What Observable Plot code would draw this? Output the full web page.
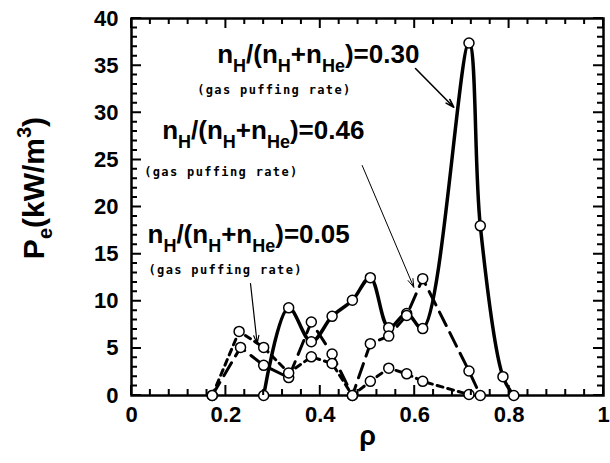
<!DOCTYPE html>
<html><head><meta charset="utf-8">
<script src="https://cdn.jsdelivr.net/npm/d3@7"></script>
<script src="https://cdn.jsdelivr.net/npm/@observablehq/plot@0.6"></script>
<style>body{margin:0;background:#fff} svg{display:block}</style>
</head><body><div id="chart"></div>
<script>
// ---- data ----
// n_H/(n_H+n_He) = 0.30 (solid)
const rho30 = [0.280, 0.333, 0.381, 0.425, 0.468, 0.506, 0.545, 0.583, 0.617, 0.715, 0.739, 0.787, 0.810];
const pe30  = [0.0,   9.3,   5.7,   8.4,   10.1,  12.5,  7.2,   8.7,   7.1,   37.4,  18.0,  2.0,   0.0];
// n_H/(n_H+n_He) = 0.46 (long dash)
const rho46 = [0.171, 0.231, 0.280, 0.333, 0.381, 0.425, 0.468, 0.506, 0.545, 0.583, 0.617, 0.715, 0.739];
const pe46  = [0.0,   5.1,   3.2,   1.9,   7.8,   4.4,   0.0,   5.5,   6.3,   8.5,   12.4,  2.6,   0.0];
// n_H/(n_H+n_He) = 0.05 (short dash)
const rho05 = [0.171, 0.228, 0.280, 0.333, 0.381, 0.425, 0.468, 0.506, 0.545, 0.583, 0.617, 0.715];
const pe05  = [0.0,   6.8,   5.1,   2.4,   4.1,   3.4,   0.0,   1.5,   2.9,   2.3,   1.5,   0.1];

const xTickLabels = [0, 0.2, 0.4, 0.6, 0.8, 1];
const yTickLabels = [0, 5, 10, 15, 20, 25, 30, 35, 40];

const annoRatios   = ["0.30", "0.46", "0.05"];
const annoNote     = "(gas puffing rate)";
const annoLabelRho = [0.1816, 0.0650, 0.0339];
const annoLabelPe  = [35.33, 27.24, 16.13];
const annoNoteRho  = [0.1392, 0.0269, 0.0360];
const annoNotePe   = [32.04, 23.34, 12.94];
const arrowFromRho = [0.6017, 0.4888, 0.2521];
const arrowFromPe  = [34.69, 24.40, 11.88];
const arrowToRho   = [0.6828, 0.5980, 0.2663];
const arrowToPe    = [30.59, 11.49, 5.49];
const arrowWidth   = [1.6, 1.0, 1.2];

// ---- tables ----
const rows = (rho, pe, s) => rho.map((r, i) => ({rho: r, pe: pe[i], s}));
const s30 = rows(rho30, pe30, "0.30");
const s46 = rows(rho46, pe46, "0.46");
const s05 = rows(rho05, pe05, "0.05");
const labels = annoRatios.map((v, i) => ({rho: annoLabelRho[i], pe: annoLabelPe[i], text: "RATIO:" + v}));
const notes = annoRatios.map((v, i) => ({rho: annoNoteRho[i], pe: annoNotePe[i], text: annoNote}));
const arrows = annoRatios.map((v, i) => ({x1: arrowFromRho[i], y1: arrowFromPe[i], x2: arrowToRho[i], y2: arrowToPe[i], w: arrowWidth[i]}));

const xMinor = d3.range(0, 1.0001, 0.04);
const yMinor = d3.range(0, 40.001, 1);

const chart = Plot.plot({
  width: 610, height: 463,
  marginLeft: 131, marginRight: 7, marginTop: 18, marginBottom: 68,
  x: {domain: [0, 1]},
  y: {domain: [0, 40]},
  style: {fontFamily: "'Liberation Sans', Arial, sans-serif", fontWeight: "bold", background: "white", color: "black", overflow: "visible"},
  marks: [
    Plot.frame({strokeWidth: 2.5}),
    // tick labels
    Plot.axisX({anchor: "bottom", ticks: xTickLabels, tickSize: 0, tickPadding: 11, tickFormat: d => String(d), fontSize: 22, label: null}),
    Plot.axisY({anchor: "left", ticks: yTickLabels, tickSize: 0, tickPadding: 13, tickFormat: d => String(d), fontSize: 22, label: null}),
    // curves
    Plot.line(s30, {x: "rho", y: "pe", curve: "catmull-rom", strokeWidth: 3.5}),
    Plot.line(s46, {x: "rho", y: "pe", strokeWidth: 3, strokeDasharray: "15,8"}),
    Plot.line(s05, {x: "rho", y: "pe", strokeWidth: 3, strokeDasharray: "6,5"}),
    Plot.dot([...s30, ...s46, ...s05], {x: "rho", y: "pe", r: 5, fill: "white", stroke: "black", strokeWidth: 1.5}),
    // annotations
    Plot.arrow(arrows, {x1: "x1", y1: "y1", x2: "x2", y2: "y2", strokeWidth: "w", headLength: 13, headAngle: 35, stroke: "black"}),
    Plot.text(labels, {x: "rho", y: "pe", text: "text", textAnchor: "start", lineAnchor: "bottom", fontSize: 26, fontWeight: "bold"}),
    Plot.text(notes, {x: "rho", y: "pe", text: "text", textAnchor: "start", lineAnchor: "bottom", fontSize: 12, fontWeight: "bold", fontFamily: "'DejaVu Sans Mono', monospace"}),
    // axis titles
    Plot.text(["YLABEL"], {frameAnchor: "left", dx: -88, dy: -19, rotate: -90, text: d => d, textAnchor: "middle", lineAnchor: "bottom", fontSize: 30, fontWeight: "bold"}),
    Plot.text(["ρ"], {frameAnchor: "bottom", dy: 49, text: d => d, textAnchor: "middle", lineAnchor: "bottom", fontSize: 27, fontWeight: "bold"})
  ]
});

// inward tick marks on all four sides, positioned with the chart's own x/y scales
{
  const sx = chart.scale("x"), sy = chart.scale("y");
  const [x0, x1] = sx.range, [y0, y1] = sy.range; // y0 bottom, y1 top
  const g = d3.select(chart).append("g").attr("aria-label", "inner-ticks")
    .attr("stroke", "black").attr("stroke-width", 2).attr("fill", "none");
  const path = d3.path();
  for (const v of xMinor) {
    const px = sx.apply(v), len = xTickLabels.some(t => Math.abs(t - v) < 1e-9) ? 10 : 6;
    path.moveTo(px, y0); path.lineTo(px, y0 - len);
    path.moveTo(px, y1); path.lineTo(px, y1 + len);
  }
  for (const v of yMinor) {
    const py = sy.apply(v), len = yTickLabels.includes(Math.round(v)) && Math.round(v) % 5 === 0 ? 10 : 6;
    path.moveTo(x0, py); path.lineTo(x0 + len, py);
    path.moveTo(x1, py); path.lineTo(x1 - len, py);
  }
  g.append("path").attr("d", path.toString());
}

// subscripts / superscripts as real text tspans
d3.select(chart).selectAll("text").each(function () {
  const t = this.textContent;
  const sel = d3.select(this);
  const build = (parts, subFont) => {
    sel.text(null);
    let cur = 0;
    for (const [s, shift] of parts) {
      const ts = sel.append("tspan").attr("dy", shift - cur).text(s);
      if (shift !== 0) ts.attr("font-size", subFont);
      cur = shift;
    }
  };
  if (t.startsWith("RATIO:")) {
    const v = t.slice(6);
    build([["n", 0], ["H", 9], ["/(n", 0], ["H", 9], ["+n", 0], ["He", 9], [")=" + v, 0]], 18);
  } else if (t === "YLABEL") {
    build([["P", 0], ["e", 8], ["(kW/m", 0], ["3", -13], [")", 0]], 20);
  } else if (t === annoNote) {
    sel.attr("textLength", 153).attr("lengthAdjust", "spacing");
  }
});

document.getElementById("chart").appendChild(chart);
</script>
</body></html>
